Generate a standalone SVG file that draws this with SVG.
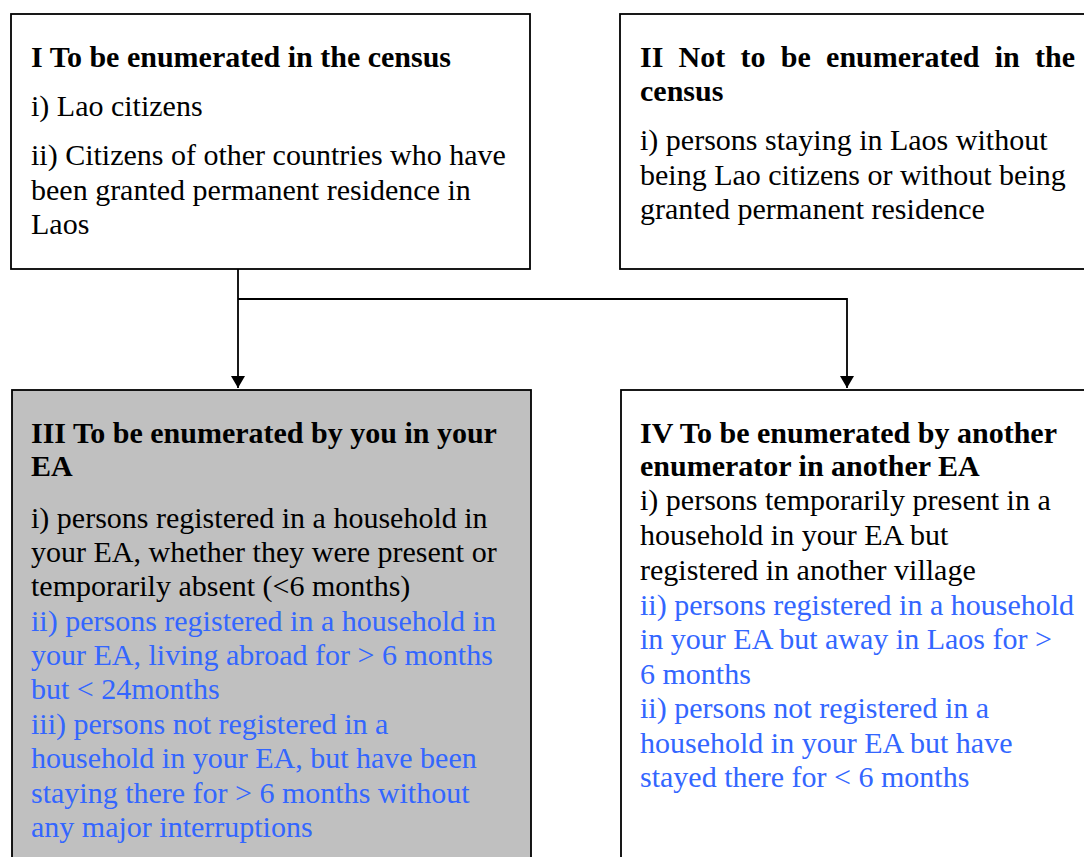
<svg xmlns="http://www.w3.org/2000/svg" width="1084" height="857" viewBox="0 0 1084 857">
<defs>
<style>
.box{fill:#ffffff;stroke:#000000;stroke-width:1.8}
.gray{fill:#c0c0c0;stroke:#000000;stroke-width:1.8}
text{font-family:"Liberation Serif","Times New Roman",serif;font-size:30px;fill:#000000}
.b{font-weight:bold}
.blue{fill:#3366ff}
.conn{fill:none;stroke:#000000;stroke-width:1.8}
</style>
<marker id="arr" viewBox="0 0 12 14" refX="12" refY="7" markerWidth="12" markerHeight="14" markerUnits="userSpaceOnUse" orient="auto">
<path d="M0,0 L12,7 L0,14 Z" fill="#000000"/>
</marker>
</defs>
<rect width="1084" height="857" fill="#ffffff"/>

<g id="connectors">
<path class="conn" d="M238,269 V388" marker-end="url(#arr)"/>
<path class="conn" d="M238,299 H847 V388" marker-end="url(#arr)"/>
</g>

<g id="node-I">
<rect class="box" x="11" y="14" width="519" height="255"/>
<text class="b" x="31" y="67">I To be enumerated in the census</text>
<text x="31" y="116">i) Lao citizens</text>
<text x="31" y="165">ii) Citizens of other countries who have</text>
<text x="31" y="200">been granted permanent residence in</text>
<text x="31" y="234">Laos</text>
</g>

<g id="node-II">
<rect class="box" x="620" y="14" width="480" height="255"/>
<text class="b" y="67"><tspan x="640">II</tspan><tspan x="678.6">Not</tspan><tspan x="740.5">to</tspan><tspan x="780.8">be</tspan><tspan x="826.1">enumerated</tspan><tspan x="994.7">in</tspan><tspan x="1035">the</tspan></text>
<text class="b" x="640" y="101">census</text>
<text x="640" y="150">i) persons staying in Laos without</text>
<text x="640" y="185">being Lao citizens or without being</text>
<text x="640" y="219">granted permanent residence</text>
</g>

<g id="node-III">
<rect class="gray" x="12" y="390" width="519" height="480"/>
<text class="b" x="31" y="443">III To be enumerated by you in your</text>
<text class="b" x="31" y="476">EA</text>
<text x="31" y="528">i) persons registered in a household in</text>
<text x="31" y="562">your EA, whether they were present or</text>
<text x="31" y="596">temporarily absent (&lt;6 months)</text>
<text class="blue" x="31" y="631">ii) persons registered in a household in</text>
<text class="blue" x="31" y="665">your EA, living abroad for &gt; 6 months</text>
<text class="blue" x="31" y="699">but &lt; 24months</text>
<text class="blue" x="31" y="734">iii) persons not registered in a</text>
<text class="blue" x="31" y="768">household in your EA, but have been</text>
<text class="blue" x="31" y="803">staying there for &gt; 6 months without</text>
<text class="blue" x="31" y="837">any major interruptions</text>
</g>

<g id="node-IV">
<rect class="box" x="621" y="390" width="480" height="480"/>
<text class="b" x="640" y="443">IV To be enumerated by another</text>
<text class="b" x="640" y="476">enumerator in another EA</text>
<text x="640" y="510">i) persons temporarily present in a</text>
<text x="640" y="545">household in your EA but</text>
<text x="640" y="580">registered in another village</text>
<text class="blue" x="640" y="615">ii) persons registered in a household</text>
<text class="blue" x="640" y="649">in your EA but away in Laos for &gt;</text>
<text class="blue" x="640" y="684">6 months</text>
<text class="blue" x="640" y="718">ii) persons not registered in a</text>
<text class="blue" x="640" y="753">household in your EA but have</text>
<text class="blue" x="640" y="787">stayed there for &lt; 6 months</text>
</g>
</svg>
